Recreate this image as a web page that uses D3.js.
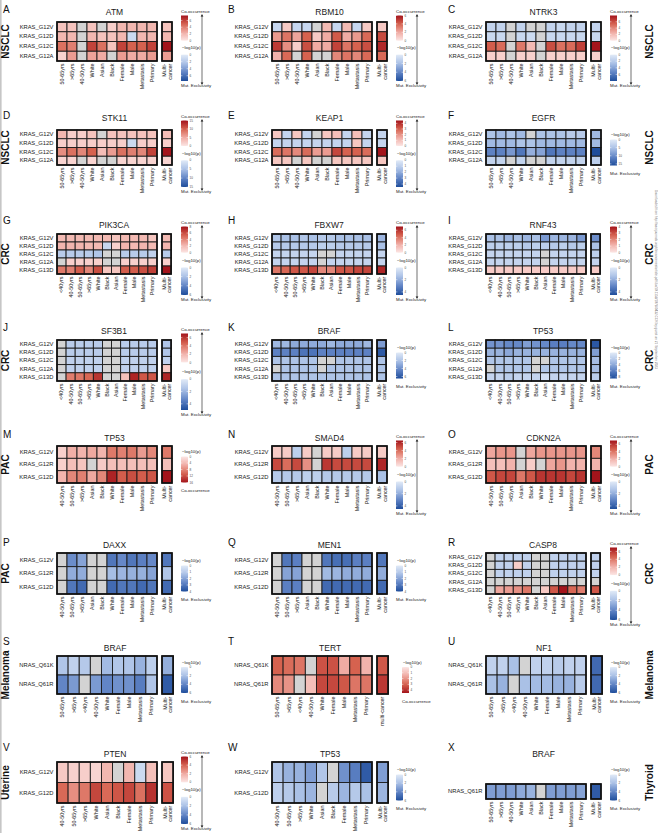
<!DOCTYPE html>
<html><head><meta charset="utf-8">
<script src="https://cdn.jsdelivr.net/npm/d3@7"></script>
<style>body{margin:0;background:#fff}svg{display:block}</style>
</head><body><svg id="c" width="658" height="833"></svg>
<script>
// ---------- labels ----------
const colsNSCLC = ["50-65yrs", ">65yrs", "40-50yrs", "White", "Asian", "Black", "Female", "Male", "Metastasis", "Primary"];
const colsCRC = ["<40yrs", "40-50yrs", "50-65yrs", ">65yrs", "White", "Black", "Asian", "Female", "Male", "Metastasis", "Primary"];
const colsPAC = ["40-50yrs", "50-65yrs", ">65yrs", "Asian", "Black", "White", "Female", "Male", "Metastasis", "Primary"];
const colsMEL = ["50-65yrs", ">65yrs", "<40yrs", "40-50yrs", "White", "Female", "Male", "Metastasis", "Primary"];
const colsUTE = ["40-50yrs", "50-65yrs", ">65yrs", "White", "Asian", "Black", "Female", "Metastasis", "Primary"];
const colsTHY = ["50-65yrs", ">65yrs", "40-50yrs", "White", "Asian", "Black", "Female", "Male", "Metastasis", "Primary"];
const rowsNSCLC = ["KRAS_G12V", "KRAS_G12D", "KRAS_G12C", "KRAS_G12A"];
const rowsCRC = ["KRAS_G12V", "KRAS_G12D", "KRAS_G12C", "KRAS_G12A", "KRAS_G13D"];
const rowsPAC = ["KRAS_G12V", "KRAS_G12R", "KRAS_G12D"];
const rowsMEL = ["NRAS_Q61K", "NRAS_Q61R"];
const rowsUTE = ["KRAS_G12V", "KRAS_G12D"];
const rowsTHY = ["NRAS_Q61R"];
const multiTwo = ["Multi-", "cancer"];
const multiOne = ["multi-cancer"];

// ---------- legend ticks ----------
const t0_4s = [0, 1, 2, 3, 4];
const t0_4 = [0, 2, 4];
const t0_6 = [0, 2, 4, 6];
const t0_8 = [0, 2, 4, 6, 8];
const t0_15 = [0, 5, 10, 15];
const t0_16 = [0, 4, 8, 12, 16];

// ---------- values: signed -log10(p); + co-occurrence, - exclusivity, null = NA ----------
const valsA = [[1.5,1.5,null,1.5,null,1,2,2,2,2],[2,2,null,2,1.5,1.5,2,-1,2,2],[4.5,4,null,6,4.5,1.5,6,5,5,6],[0.8,3,null,2.8,2.5,null,3,2.5,2.5,3]];
const multiA = [1.5,2,8,3];
const valsB = [[-1,1,-1,-1,null,1.5,-1,1.5,-1,1],[2.5,3.5,2.2,4,1,2,4.2,2,2.5,3.8],[5,2.8,0.8,4.5,2,2,4.8,3.5,4,4.5],[1.8,3.8,null,4,null,null,3,3.5,3,3.8]];
const multiB = [1,4.6,5.5,3.8];
const valsC = [[-1.5,-1.5,null,-1.5,null,null,-1.5,-1.2,-1.5,-1.5],[-1.2,-1.2,null,-1.2,-1,null,-1.2,-1.2,-1.2,-1.2],[5.5,5,null,4.5,2,null,6,4.8,5,6.5],[1,1,null,1,1,null,1,1,1,1]];
const multiC = [-1.5,-1.2,8,1];
const valsD = [[4,2,2,3,null,3,3,3,3,3],[2,2,2,2,2,2,2,-2,2,2],[7,9,7.5,10,3.5,6,9,8,7.5,12],[1.5,1.5,null,1.5,null,null,1.5,1.5,1.5,1.5]];
const multiD = [3.5,2,15,1.5];
const valsE = [[0.8,-0.8,0.8,-0.8,null,0.8,1,-0.8,1,-0.8],[-0.8,-0.8,-0.8,-0.8,-0.8,-0.8,-0.8,-0.8,0.8,-0.8],[2.8,2.6,2.2,2.8,1.8,1.8,3.5,3,3,2.8],[0.8,0.8,null,0.8,null,null,0.8,0.8,0.8,0.8]];
const multiE = [-0.8,-0.8,4.5,0.8];
const valsF = [[-5,-6,-5,-6,null,-5,-5,-5,-4,-4],[-6,-6,-6,-5,-5,-6,-6,-6,-6,-6],[-11,-11,-9,-12,-7,-8,-12,-11,-11,-11],[-3,-3,null,-3,null,null,-3,-3,-3,-3]];
const multiF = [-6,-6,-16,-3.5];
const valsG = [[2,2,2,2,2,2,1.5,2,2,2,1.5],[2.2,2.2,2.2,2,2,-1,1,2.2,2,2.2,2],[-1.5,-1.5,-1.5,-1.5,-1.8,null,null,-1.5,-1.5,-1.5,-1.2],[null,1,1,1,1,null,null,1,1,1,1],[4.5,4.2,5.5,4,6,1.5,1.5,5.5,5.5,6,6.5]];
const multiG = [2,2.2,-1.5,1,8];
const valsH = [[-1.3,-1.5,-1.5,-1.3,-1.5,-1.2,-1.2,-1.5,-1.5,-1.5,-1.5],[-1.2,-1.2,-1.2,-1.2,-1.2,-1,-1,-1.2,-1.2,-1.2,-1.2],[-0.8,-0.8,-0.8,-0.8,-0.8,null,null,-0.8,-0.8,-0.8,-0.8],[-0.8,-0.8,-0.8,-0.8,-0.8,null,-0.8,-0.8,-0.8,-0.8,-0.8],[4,4.5,5,5,5.5,3.5,3.5,5,5,5.5,5.5]];
const multiH = [-1.8,-1.5,-0.8,-0.8,6.5];
const valsI = [[-1.5,-1.5,-1.8,-1.5,-1.8,-1.5,-2.5,-1.8,-1.8,-1.8,-2.5],[-1,-1,-1,-1,-1.2,-1,-1,-1.2,-1,-1.2,-1],[-0.8,-0.8,-0.8,-0.8,-0.8,-0.8,null,-0.8,-0.8,-0.8,-0.8],[-0.8,-0.8,-0.8,-0.8,-0.8,-0.8,null,-0.8,-0.8,-0.8,-0.8],[0.6,0.6,0.6,0.6,0.6,0.6,0.6,0.6,0.6,0.6,0.6]];
const multiI = [-2.8,-1.5,-1,-0.8,0.6];
const valsJ = [[null,-1.2,-1.2,-1.2,-1.2,null,null,-1.2,-1.2,-1.2,-1.2],[null,-1.2,-1.2,-1.2,-1.2,null,null,-1.2,-1.2,-1.2,-1.2],[null,-1,-1,-1,-1,null,null,-1,-1,-1,-1],[null,-1,-1,-1,-1,null,null,-1,-1,-1,-1],[null,3.8,4,4.5,6,null,null,1.5,6.5,5,5]];
const multiJ = [-1.5,-1.5,-1,1.2,6.5];
const valsK = [[-2.5,-2.5,-3,-3,-3,-3,-2.5,-3,-3,-3,-2.5],[-4.5,-4.5,-4.5,-5,-5,-4.5,-4.5,-4.5,-4.5,-4.5,-4.5],[-2,-2,-2,-2,-2,null,null,-2,-2,-2,-2],[null,-2,-2,-2,-2,null,-2,-2,-2,-2,-2],[-2,-2,-2,-2,-2,-2,-2,-2,-2,-2,-2]];
const multiK = [-3.5,-6,-2,-2,-2];
const valsL = [[-5,-5,-5.5,-5.5,-4.5,-5,-5.5,-6,-6,-5.5,-5.5],[-3.5,-3.5,-4,-3.5,-3.5,-3.5,-3.5,-3.5,-3.5,-3.5,-3.5],[-2.5,-2.5,-2.5,-2.5,-2.5,null,null,-2.5,-2.5,-2.5,-2.5],[null,-2.5,-2.5,-2.5,-2.5,null,-2.5,-2.5,-2.5,-2.5,-2.5],[-1.5,-1.5,-2,-1.5,-1.5,-1.5,-0.8,-1.5,-1.5,-1.5,-1.5]];
const multiL = [-8,-4.5,-3,-3,-2];
const valsM = [[2,5,4.5,5.5,4.5,9,8.5,9,6.5,8],[2,3.5,3,null,2.5,3.5,3.5,3.5,3.5,3.5],[4.5,8,8.5,5.5,8,15,11,12,11,11.5]];
const multiM = [9,3.5,16];
const valsN = [[1,1,-1,1,null,1,1,-1,1,1],[5,4,5,3,null,5.5,5,5,5,5],[-1.2,-1.2,-1.2,-1,-1,-1.2,-1.2,-1.2,-1.2,-1.2]];
const multiN = [1,6,-1.5];
const valsO = [[2.5,3,3,null,2.5,3,3,3,3,3],[1.5,1.5,2,null,1,null,2.5,3,2,2],[5,5.5,5.5,4,5,6,6,6,5.5,6]];
const multiO = [3.5,2,7];
const valsP = [[null,-2.5,-2,null,null,-3,-2.6,-3,-2.8,-2.6],[null,-1.8,-1.8,null,null,-1.4,-1.6,-1.7,-1.7,-2],[null,-3,-3.3,null,null,-3.3,-3,-3,-3.3,-3]];
const multiP = [-3,-1.2,-3.3];
const valsQ = [[null,-3,-2.8,null,null,-3,-3.2,-3.2,-2.8,-2.8],[null,-2,-2,null,null,-1.5,-1.6,-1.8,-1.8,-1.8],[null,-2.8,-2.8,null,null,-3.3,-3.3,-3.3,-3.3,-3.3]];
const multiQ = [-3,-1.8,-3.3];
const valsR = [[null,-1.2,-1.2,-1.2,-1.2,null,null,-1.2,-1.2,-1.2,-1.2],[null,-1.2,-1.2,1,-1.2,null,null,-1.2,-1.2,-1.2,-1.2],[null,-1.2,-1.2,-1.2,-1.2,null,null,-1.2,-1.2,-1.2,-1.2],[null,null,null,null,null,null,null,null,null,null,null],[null,2.5,2.8,3.2,4,null,1.2,5,7,4.5,3.8]];
const multiR = [-1.2,-1.2,-1.2,null,5];
const valsS = [[-1.8,-1.2,-1.6,null,-2.2,-1.7,-1.8,-2.5,-1.3],[-4,-3.3,null,-3.3,-4,-3.6,-3.6,-4.3,-1.8]];
const multiS = [-2.6,-5.5];
const valsT = [[3,2.8,2.6,null,3.3,3.3,1.5,3,1.3],[2.2,2,null,1,3.5,3.5,3.2,2.6,2.6]];
const multiT = [3.2,3.8];
const valsU = [[-1.2,-1.2,-2,null,-1.2,-1.2,-1.5,-1.2,-1.2],[-2,-2.5,null,-2,-2.2,-2.2,-2.5,-2.5,-1.5]];
const multiU = [-5,-5];
const valsV = [[1,0.7,0.8,0.6,1.6,null,1.6,-0.8,1.3],[3.8,2.8,3.4,4.7,3.8,4.3,4.7,3.6,5.2]];
const multiV = [1.1,4.4];
const valsW = [[-1.8,-2.5,-2.5,-3.2,-1.8,null,-3.6,-4.3,-5.5],[-1.3,-1.6,-2,-2.4,null,-1.5,-2.4,-1.6,-2]];
const multiW = [-3.2,-2.4];
const valsX = [[-3.2,-3.2,-3.2,-2.8,-2.5,null,-3.2,-3.2,-3.2,-3]];
const multiX = [-5.5];

// ---------- panel table (built from the arrays above) ----------
const panels = [
 {id:"A",gene:"ATM",r:0,c:0,cols:colsNSCLC,rows:rowsNSCLC,vals:valsA,multi:multiA,leg:"both",rt:t0_6,bt:t0_6,rm:7.5,bm:7.5,cancer:"NSCLC"},
 {id:"B",gene:"RBM10",r:0,c:1,cols:colsNSCLC,rows:rowsNSCLC,vals:valsB,multi:multiB,leg:"both",rt:t0_6,bt:t0_6,rm:6,bm:6},
 {id:"C",gene:"NTRK3",r:0,c:2,cols:colsNSCLC,rows:rowsNSCLC,vals:valsC,multi:multiC,leg:"both",rt:t0_6,bt:t0_6,rm:8,bm:8,cancer:"NSCLC"},
 {id:"D",gene:"STK11",r:1,c:0,cols:colsNSCLC,rows:rowsNSCLC,vals:valsD,multi:multiD,leg:"both",rt:t0_15,bt:t0_15,rm:15,bm:15,cancer:"NSCLC"},
 {id:"E",gene:"KEAP1",r:1,c:1,cols:colsNSCLC,rows:rowsNSCLC,vals:valsE,multi:multiE,leg:"both",rt:t0_4s,bt:t0_4s,rm:4.5,bm:4.5},
 {id:"F",gene:"EGFR",r:1,c:2,cols:colsNSCLC,rows:rowsNSCLC,vals:valsF,multi:multiF,leg:"blue",bt:t0_15,bm:16,cancer:"NSCLC"},
 {id:"G",gene:"PIK3CA",r:2,c:0,cols:colsCRC,rows:rowsCRC,vals:valsG,multi:multiG,leg:"both",rt:t0_8,bt:t0_6,rm:8,bm:6,cancer:"CRC"},
 {id:"H",gene:"FBXW7",r:2,c:1,cols:colsCRC,rows:rowsCRC,vals:valsH,multi:multiH,leg:"both",rt:t0_6,bt:t0_4,rm:7,bm:4.5},
 {id:"I",gene:"RNF43",r:2,c:2,cols:colsCRC,rows:rowsCRC,vals:valsI,multi:multiI,leg:"both",rt:t0_4s,bt:t0_4,rm:4,bm:4.5,cancer:"CRC"},
 {id:"J",gene:"SF3B1",r:3,c:0,cols:colsCRC,rows:rowsCRC,vals:valsJ,multi:multiJ,leg:"both",rt:t0_6,bt:t0_4,rm:7,bm:5,cancer:"CRC"},
 {id:"K",gene:"BRAF",r:3,c:1,cols:colsCRC,rows:rowsCRC,vals:valsK,multi:multiK,leg:"blue",bt:t0_6,bm:6.5},
 {id:"L",gene:"TP53",r:3,c:2,cols:colsCRC,rows:rowsCRC,vals:valsL,multi:multiL,leg:"blue",bt:t0_8,bm:8.5,cancer:"CRC"},
 {id:"M",gene:"TP53",r:4,c:0,cols:colsPAC,rows:rowsPAC,vals:valsM,multi:multiM,leg:"red",rt:t0_16,rm:16,cancer:"PAC"},
 {id:"N",gene:"SMAD4",r:4,c:1,cols:colsPAC,rows:rowsPAC,vals:valsN,multi:multiN,leg:"both",rt:t0_6,bt:t0_4,rm:6.5,bm:4.5},
 {id:"O",gene:"CDKN2A",r:4,c:2,cols:colsPAC,rows:rowsPAC,vals:valsO,multi:multiO,leg:"both",rt:t0_6,bt:t0_4,rm:7,bm:4.5,cancer:"PAC"},
 {id:"P",gene:"DAXX",r:5,c:0,cols:colsPAC,rows:rowsPAC,vals:valsP,multi:multiP,leg:"blue",bt:t0_4s,bm:4,cancer:"PAC"},
 {id:"Q",gene:"MEN1",r:5,c:1,cols:colsPAC,rows:rowsPAC,vals:valsQ,multi:multiQ,leg:"blue",bt:t0_4s,bm:4},
 {id:"R",gene:"CASP8",r:5,c:2,cols:colsCRC,rows:rowsCRC,vals:valsR,multi:multiR,leg:"both",rt:t0_6,bt:t0_6,rm:7,bm:6,cancer:"CRC"},
 {id:"S",gene:"BRAF",r:6,c:0,cols:colsMEL,rows:rowsMEL,vals:valsS,multi:multiS,leg:"blue",bt:t0_6,bm:6,cancer:"Melanoma"},
 {id:"T",gene:"TERT",r:6,c:1,cols:colsMEL,rows:rowsMEL,vals:valsT,multi:multiT,leg:"red",rt:t0_4s,rm:4.5,mlab:multiOne,ldx:6},
 {id:"U",gene:"NF1",r:6,c:2,cols:colsMEL,rows:rowsMEL,vals:valsU,multi:multiU,leg:"blue",bt:t0_6,bm:6,cancer:"Melanoma"},
 {id:"V",gene:"PTEN",r:7,c:0,cols:colsUTE,rows:rowsUTE,vals:valsV,multi:multiV,leg:"both",rt:t0_6,bt:t0_6,rm:6,bm:6,cancer:"Uterine"},
 {id:"W",gene:"TP53",r:7,c:1,cols:colsUTE,rows:rowsUTE,vals:valsW,multi:multiW,leg:"blue",bt:t0_6,bm:6},
 {id:"X",gene:"BRAF",r:7,c:2,cols:colsTHY,rows:rowsTHY,vals:valsX,multi:multiX,leg:"blue",bt:t0_6,bm:6,cancer:"Thyroid",top:784,bot:799}
];

// ---------- layout ----------
const rowLayout = [
 {letterY:13,titleY:15,top:22,bot:61,coY:11,meY:85},
 {letterY:119,titleY:121,top:130,bot:165,coY:116,meY:191},
 {letterY:224,titleY:228,top:234,bot:274,coY:222,meY:299},
 {letterY:331,titleY:334,top:340,bot:381,coY:329,meY:414},
 {letterY:438,titleY:441,top:446,bot:483,coY:436,meY:513},
 {letterY:546,titleY:548,top:553,bot:594,coY:543,meY:624},
 {letterY:645,titleY:651,top:656,bot:694,coY:645,meY:720},
 {letterY:751,titleY:757,top:762,bot:803,coY:752,meY:828}
];
const colOff = [0, 215, 429];
const letterX = [3, 228, 448];
const FONT = "'Liberation Sans', Arial, Helvetica, sans-serif";

const redInterp = d3.piecewise(d3.interpolateRgb, ["#fce6e4","#f0aba3","#d6624f","#a3141b"]);
const blueInterp = d3.piecewise(d3.interpolateRgb, ["#e1eaf7","#aac1e6","#6285c6","#1f4d9b"]);
const NA = "#d3d3d3";

const svg = d3.select("#c").attr("font-family", FONT);
const defs = svg.append("defs");
function grad(id, interp, rev){
  const lg = defs.append("linearGradient").attr("id", id).attr("x1",0).attr("y1",0).attr("x2",0).attr("y2",1);
  d3.range(0, 1.0001, 0.1).forEach(t => lg.append("stop").attr("offset", t).attr("stop-color", interp(rev ? 1 - t : t)));
}
grad("gRedDown", redInterp, true);
grad("gRedUp", redInterp, false);
grad("gBlueUp", blueInterp, false);

svg.append("rect").attr("x",0).attr("y",0).attr("width",1.6).attr("height",833).attr("fill","#c6c6c6");

function txt(g, x, y, s, size, opts = {}){
  return g.append("text").attr("x", x).attr("y", y).attr("font-size", size)
    .attr("fill", opts.fill || "#1a1a1a").attr("text-anchor", opts.anchor || "start")
    .attr("font-weight", opts.weight || "normal").text(s);
}
function bar(g, bx, t, b, gid, s, ticks){
  g.append("rect").attr("x", bx).attr("y", t).attr("width", 7).attr("height", b - t).attr("fill", `url(#${gid})`);
  ticks.forEach(v => {
    const yy = s(v);
    g.append("line").attr("x1", bx).attr("x2", bx + 1.4).attr("y1", yy).attr("y2", yy).attr("stroke", "#fff").attr("stroke-width", 0.5);
    g.append("line").attr("x1", bx + 5.6).attr("x2", bx + 7).attr("y1", yy).attr("y2", yy).attr("stroke", "#fff").attr("stroke-width", 0.5);
    txt(g, bx + 8.5, yy + 1.1, v, 3.1, {fill:"#4d4d4d"});
  });
}
function arrow(g, x, y1, y2){
  g.append("line").attr("x1", x).attr("x2", x).attr("y1", y1 + 2).attr("y2", y2 - 2).attr("stroke", "#111").attr("stroke-width", 0.6);
  g.append("path").attr("d", `M${x-1.3},${y1+2.6}L${x},${y1}L${x+1.3},${y1+2.6}Z`).attr("fill", "#111");
  g.append("path").attr("d", `M${x-1.3},${y2-2.6}L${x},${y2}L${x+1.3},${y2-2.6}Z`).attr("fill", "#111");
}

function drawPanel(p){
  const L = rowLayout[p.r];
  const off = colOff[p.c];
  const x0 = 57 + off, W = 100;
  const top = p.top ?? L.top, bot = p.bot ?? L.bot;
  const g = svg.append("g");
  const x = d3.scaleBand().domain(p.cols).range([x0, x0 + W]);
  const y = d3.scaleBand().domain(p.rows).range([top, bot]);
  const bw = x.bandwidth();
  const mlab = p.mlab || multiTwo;
  const mx = d3.scaleBand().domain(["multi"]).range([x0 + W + 5, x0 + W + 5 + bw]);
  const red = d3.scaleSequential(redInterp).domain([0, p.rm || 1]).clamp(true);
  const blue = d3.scaleSequential(blueInterp).domain([0, p.bm || 1]).clamp(true);
  const fill = v => v == null ? NA : (v >= 0 ? red(v) : blue(-v));

  const cells = [];
  p.rows.forEach((r, i) => p.cols.forEach((c, j) => cells.push({r, c, v: p.vals[i][j]})));
  g.selectAll("rect.cell").data(cells).join("rect").attr("class", "cell")
    .attr("x", d => x(d.c)).attr("y", d => y(d.r)).attr("width", bw).attr("height", y.bandwidth())
    .attr("fill", d => fill(d.v)).attr("stroke", "#1b1b1b").attr("stroke-width", 0.9);
  g.append("rect").attr("x", x0).attr("y", top).attr("width", W).attr("height", bot - top)
    .attr("fill", "none").attr("stroke", "#111").attr("stroke-width", 1.7);

  const mcells = p.rows.map((r, i) => ({r, v: p.multi[i]}));
  g.selectAll("rect.mcell").data(mcells).join("rect").attr("class", "mcell")
    .attr("x", mx("multi")).attr("y", d => y(d.r)).attr("width", bw).attr("height", y.bandwidth())
    .attr("fill", d => fill(d.v)).attr("stroke", "#1b1b1b").attr("stroke-width", 0.9);
  g.append("rect").attr("x", mx("multi")).attr("y", top).attr("width", bw).attr("height", bot - top)
    .attr("fill", "none").attr("stroke", "#111").attr("stroke-width", 1.7);

  // row labels
  const ya = g.append("g").attr("transform", `translate(${x0 - 0.5},0)`)
    .call(d3.axisLeft(y).tickSize(0).tickPadding(3));
  ya.attr("font-size", 5.8).attr("font-family", FONT);
  ya.select(".domain").remove();
  ya.selectAll("text").attr("fill", "#222");

  // column labels
  const xa = g.append("g").attr("transform", `translate(0,${bot})`)
    .call(d3.axisBottom(x).tickSize(0));
  xa.attr("font-size", 5.4).attr("font-family", FONT);
  xa.select(".domain").remove();
  xa.selectAll("text").attr("y", 0).attr("x", -2.6).attr("dy", "0.35em")
    .attr("transform", "rotate(-90)").attr("text-anchor", "end").attr("fill", "#222");

  // multi-cancer label
  const mcx = mx("multi") + bw / 2;
  const mg = g.append("g").attr("transform", `translate(${mcx},${bot + 2.6}) rotate(-90)`);
  if (mlab.length === 2) {
    mg.append("text").attr("x", 0).attr("y", -0.8).attr("text-anchor", "end").attr("font-size", 5.4).attr("fill", "#222").text(mlab[0]);
    mg.append("text").attr("x", 0).attr("y", 4.8).attr("text-anchor", "end").attr("font-size", 5.4).attr("fill", "#222").text(mlab[1]);
  } else {
    mg.append("text").attr("x", 0).attr("y", 0).attr("dy", "0.35em").attr("text-anchor", "end").attr("font-size", 5.4).attr("fill", "#222").text(mlab[0]);
  }

  // title & letter
  txt(g, x0 + (W + 5 + bw) / 2, L.titleY, p.gene, 8.5, {anchor: "middle"});
  txt(g, letterX[p.c], L.letterY, p.id, 10, {fill: "#111"});

  // cancer type label
  if (p.cancer) {
    const cy = (L.top + L.bot) / 2;
    const cx = p.c === 0 ? 8.8 : 653;
    g.append("text").attr("transform", `translate(${cx},${cy}) rotate(-90)`)
      .attr("text-anchor", "middle").attr("font-size", 10).attr("font-weight", "bold").attr("fill", "#111").text(p.cancer);
  }

  // legend
  const bx = off + 181 + (p.ldx || 0);
  if (p.leg === "both") {
    const coY = L.coY, meY = L.meY, span = meY - coY;
    const rT = coY + 4.5, rB = coY + 4.5 + 0.34 * span, bT = coY + 0.59 * span, bB = meY - 4, mid = coY + 0.495 * span;
    txt(g, bx, coY + 1.5, "Co-occurrence", 4.4);
    bar(g, bx, rT, rB, "gRedDown", d3.scaleLinear().domain([0, p.rm]).range([rB, rT]), p.rt);
    txt(g, bx + 1, mid + 1.5, "\u2212log10(p)", 4.4);
    bar(g, bx, bT, bB, "gBlueUp", d3.scaleLinear().domain([0, p.bm]).range([bT, bB]), p.bt);
    txt(g, bx, meY + 1.5, "Mut. Exclusivity", 4.4);
    arrow(g, bx + 21, coY + 3, meY);
  } else {
    const c = (L.top + L.bot) / 2;
    const t = c - 8, b = c + 18;
    txt(g, bx + 1, c - 11.5, "\u2212log10(p)", 4.4);
    if (p.leg === "blue") {
      bar(g, bx, t, b, "gBlueUp", d3.scaleLinear().domain([0, p.bm]).range([t, b]), p.bt);
      txt(g, bx, c + 27.5, "Mut. Exclusivity", 4.4);
    } else {
      bar(g, bx, t, b, "gRedUp", d3.scaleLinear().domain([0, p.rm]).range([t, b]), p.rt);
      txt(g, bx, c + 27.5, "Co-occurrence", 4.4);
    }
  }
}

panels.forEach(drawPanel);

// side watermark
svg.append("text").attr("transform", "translate(654.6,190) rotate(90)")
  .attr("font-size", 3.2).attr("fill", "#777")
  .text("Downloaded from http://aacrjournals.org/clincancerres/article-pdf/doi/10.1158/1078-0432.CCR by guest on 21 September 2023");
</script>
</body></html>
